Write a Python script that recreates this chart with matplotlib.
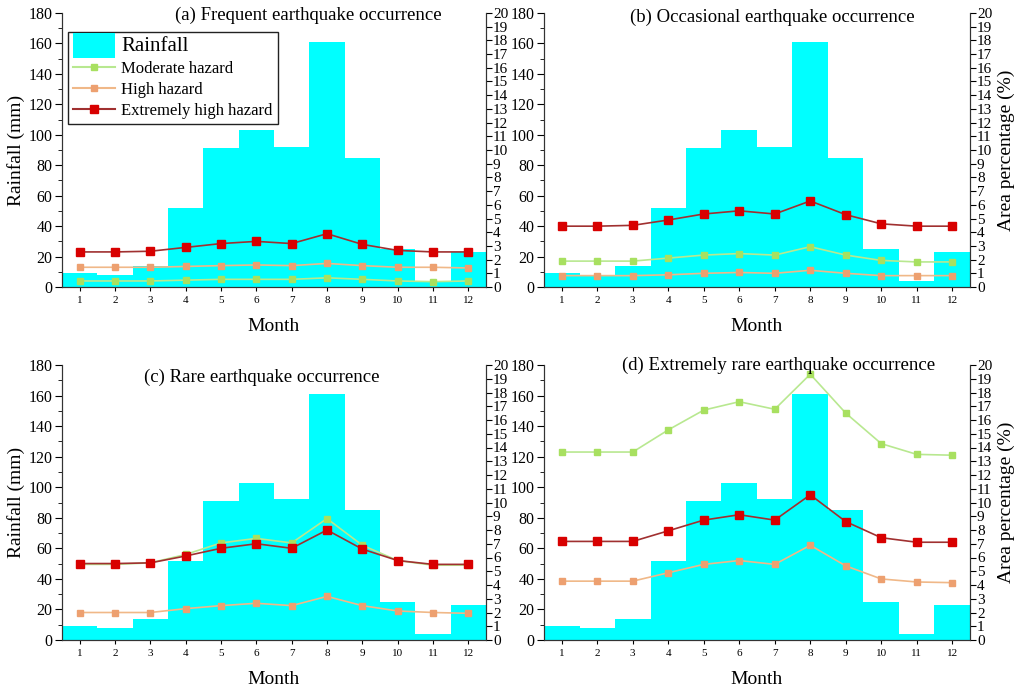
import numpy as np
import matplotlib.pyplot as plt
from matplotlib.ticker import MultipleLocator
from matplotlib.patches import Patch, Rectangle
from matplotlib.lines import Line2D
from matplotlib.legend_handler import HandlerPatch

plt.rcParams['font.family'] = ['Liberation Serif', 'DejaVu Serif']

months = np.arange(1, 13)
rainfall = [9, 8, 14, 52, 91, 103, 92, 161, 85, 25, 4, 23]

titles = ['(a) Frequent earthquake occurrence',
          '(b) Occasional earthquake occurrence',
          '(c) Rare earthquake occurrence',
          '(d) Extremely rare earthquake occurrence']

# area percentage (%) per month
moderate = [
    [0.44, 0.44, 0.44, 0.5, 0.56, 0.56, 0.56, 0.67, 0.56, 0.44, 0.39, 0.44],
    [1.89, 1.89, 1.89, 2.11, 2.33, 2.44, 2.33, 2.94, 2.33, 1.94, 1.83, 1.83],
    [5.5, 5.5, 5.61, 6.22, 7.06, 7.39, 7.06, 8.83, 6.89, 5.78, 5.44, 5.44],
    [13.67, 13.67, 13.67, 15.28, 16.72, 17.33, 16.78, 19.33, 16.5, 14.28, 13.5, 13.44],
]
high = [
    [1.44, 1.44, 1.44, 1.5, 1.56, 1.61, 1.56, 1.72, 1.56, 1.44, 1.44, 1.39],
    [0.83, 0.83, 0.83, 0.89, 1.0, 1.06, 1.0, 1.22, 1.0, 0.83, 0.83, 0.83],
    [2.0, 2.0, 2.0, 2.28, 2.5, 2.67, 2.5, 3.17, 2.5, 2.11, 2.0, 1.94],
    [4.28, 4.28, 4.28, 4.89, 5.5, 5.78, 5.5, 6.89, 5.39, 4.44, 4.22, 4.17],
]
extreme = [
    [2.56, 2.56, 2.61, 2.89, 3.17, 3.33, 3.17, 3.89, 3.11, 2.67, 2.56, 2.56],
    [4.44, 4.44, 4.5, 4.89, 5.33, 5.56, 5.33, 6.28, 5.28, 4.61, 4.44, 4.44],
    [5.56, 5.56, 5.61, 6.11, 6.67, 7.0, 6.67, 8.0, 6.61, 5.78, 5.5, 5.5],
    [7.17, 7.17, 7.17, 7.94, 8.72, 9.11, 8.72, 10.56, 8.61, 7.44, 7.11, 7.11],
]

bar_color = '#00ffff'
mod_line, mod_mk = '#b8e890', '#a8e060'
high_line, high_mk = '#f0b888', '#eda070'
ext_line, ext_mk = '#a03030', '#d80000'

# title placement in axes fraction (x, y)
title_pos = [(0.58, 0.993), (0.535, 0.985), (0.47, 0.956), (0.55, 1.0)]


def big_patch(legend, orig_handle, xdescent, ydescent, width, height, fontsize):
    return Rectangle((-xdescent, -ydescent - height * 0.6), width, height * 2.2)


fig = plt.figure(figsize=(10.15, 6.9), dpi=100)
W, H = 1015, 690
boxes = [(62, 13, 486, 287), (544, 13, 970, 287),
         (62, 365, 486, 640), (544, 365, 970, 640)]

for i, (x0, y0, x1, y1) in enumerate(boxes):
    ax = fig.add_axes([x0 / W, 1 - y1 / H, (x1 - x0) / W, (y1 - y0) / H])
    ax.bar(months, rainfall, width=1.0, color=bar_color, edgecolor='none', zorder=1)
    ax.set_xlim(0.5, 12.5)
    ax.set_ylim(0, 180)
    ax.set_xticks(months)
    ax.yaxis.set_major_locator(MultipleLocator(20))
    ax.yaxis.set_minor_locator(MultipleLocator(10))
    ax.tick_params(axis='x', labelsize=8, length=3, direction='out')
    ax.tick_params(axis='y', which='major', labelsize=11.5, length=5, direction='out', pad=2)
    ax.tick_params(axis='y', which='minor', length=3, direction='out')
    ax.spines['top'].set_visible(False)
    for s in ax.spines.values():
        s.set_color('#333333')
    ax.set_xlabel('Month', fontsize=14, labelpad=9)
    if i in (0, 2):
        ax.set_ylabel('Rainfall (mm)', fontsize=14, labelpad=2)

    ax2 = ax.twinx()
    ax2.set_ylim(0, 20)
    ax2.yaxis.set_major_locator(MultipleLocator(1))
    ax2.tick_params(axis='y', labelsize=11, length=4, direction='out', pad=1)
    ax2.spines['top'].set_visible(False)
    for s in ax2.spines.values():
        s.set_color('#333333')
    if i in (1, 3):
        ax2.set_ylabel('Area percentage (%)', fontsize=14, labelpad=4)

    ax2.plot(months, moderate[i], color=mod_line, lw=1.2, marker='s', ms=5,
             mfc=mod_mk, mec=mod_mk, zorder=3)
    ax2.plot(months, high[i], color=high_line, lw=1.2, marker='s', ms=5,
             mfc=high_mk, mec=high_mk, zorder=3)
    ax2.plot(months, extreme[i], color=ext_line, lw=1.2, marker='s', ms=5.5,
             mfc=ext_mk, mec=ext_mk, zorder=4)

    tx, ty = title_pos[i]
    ax2.text(tx, ty, titles[i], transform=ax.transAxes, ha='center', va='center',
             fontsize=13.5)

    if i == 0:
        handles = [Patch(facecolor=bar_color, edgecolor='none'),
                   Line2D([], [], color=mod_line, marker='s', mfc=mod_mk, mec=mod_mk, ms=5),
                   Line2D([], [], color=high_line, marker='s', mfc=high_mk, mec=high_mk, ms=5),
                   Line2D([], [], color=ext_line, marker='s', mfc=ext_mk, mec=ext_mk, ms=5.5)]
        labels = ['Rainfall', 'Moderate hazard', 'High hazard', 'Extremely high hazard']
        leg = ax2.legend(handles, labels, loc='upper left', bbox_to_anchor=(0.014, 0.93),
                         fontsize=12, frameon=True, fancybox=False, edgecolor='#222222',
                         framealpha=1, borderpad=0.3, labelspacing=0.3,
                         handlelength=2.5, handletextpad=0.4, borderaxespad=0,
                         handler_map={Patch: HandlerPatch(patch_func=big_patch)})
        leg.get_frame().set_linewidth(1.0)
        leg.get_texts()[0].set_fontsize(15)

fig.savefig('out.png', dpi=100)
